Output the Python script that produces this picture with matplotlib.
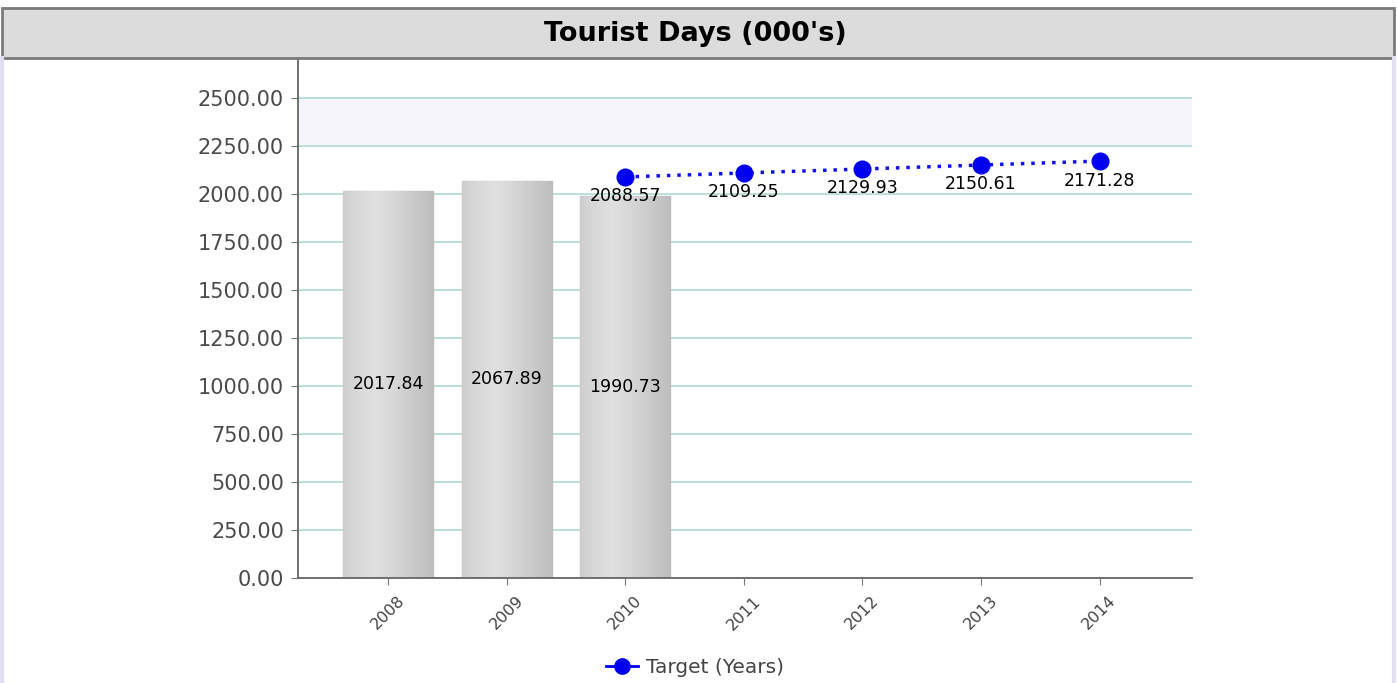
import numpy as np
import matplotlib
matplotlib.use('Agg')
import matplotlib.pyplot as plt
from matplotlib.patches import Rectangle
from matplotlib.lines import Line2D

# data
years = ['2008', '2009', '2010', '2011', '2012', '2013', '2014']
actual = [2017.84, 2067.89, 1990.73]
target_years = ['2010', '2011', '2012', '2013', '2014']
target = [2088.57, 2109.25, 2129.93, 2150.61, 2171.28]
yticks = np.arange(0, 2501, 250)

plt.rcParams['font.family'] = ['DejaVu Sans']

fig = plt.figure(figsize=(13.97, 6.83), dpi=100)
fig.patch.set_facecolor('white')

# title bar and side borders
fig.patches.append(Rectangle((2/1397, 1 - 58/683), 1392/1397, 50/683,
                             transform=fig.transFigure, facecolor='#dcdcdc',
                             edgecolor='#7a7a7a', linewidth=2, zorder=0))
fig.add_artist(Line2D([2/1397, 2/1397], [0, 1 - 58/683], color='#e0e0f2',
                      linewidth=3, transform=fig.transFigure))
fig.add_artist(Line2D([1394/1397, 1394/1397], [0, 1 - 58/683], color='#e0e0f2',
                      linewidth=3, transform=fig.transFigure))
fig.text(0.4975, 1 - 34/683, "Tourist Days (000's)", ha='center', va='center',
         fontsize=19.5, fontweight='bold', color='black')

ax = fig.add_axes([298/1397, 1 - 578/683, 894/1397, 520/683])
ax.set_facecolor('white')

x = np.arange(len(years))
xt = [years.index(y) for y in target_years]

# bands and grid
ax.axhspan(2250, 2500, color='#f5f5fb', zorder=0)
for v in yticks:
    ax.axhline(v, color='#b5dcd6', linewidth=1.3, zorder=1)

bars = ax.bar(x[:len(actual)], actual, width=0.76, color='#d6d6d8',
              edgecolor='#c2c2c4', linewidth=1, zorder=2)
# light gradient across each bar
grad = np.linspace(0, 1, 64).reshape(1, -1)
grad = 1 - 0.35 * np.abs(grad - 0.35)
for b in bars:
    im = ax.imshow(grad, cmap='Greys_r', vmin=0, vmax=1.25, aspect='auto',
                   extent=[b.get_x(), b.get_x() + b.get_width(), 0, b.get_height()],
                   zorder=2.5, alpha=0.9)
    im.set_clip_path(b)
for b, v in zip(bars, actual):
    ax.text(b.get_x() + b.get_width() / 2, v / 2, '%.2f' % v, ha='center',
            va='center', fontsize=12.5, color='black', zorder=4)

ax.plot(xt, target, color='#1010ee', linestyle=(0, (1, 2)), linewidth=2.5,
        marker='o', markersize=12, markerfacecolor='#0000f0',
        markeredgecolor='#0000f0', zorder=5)
for xi, v in zip(xt, target):
    ax.annotate('%.2f' % v, (xi, v), xytext=(0, -14), textcoords='offset points',
                ha='center', va='center', fontsize=12.5, color='black', zorder=6)

ax.set_xlim(-0.76, 6.78)
ax.set_ylim(0, 2708)
ax.set_yticks(yticks)
ax.set_yticklabels(['%.2f' % v for v in yticks], fontsize=15, color='#4a4a4a')
ax.set_xticks(x)
ax.set_xticklabels(years, rotation=45, fontsize=11.5, color='#444444')
ax.tick_params(axis='both', direction='out', length=5, color='#777777')
ax.tick_params(axis='x', pad=6)
ax.tick_params(axis='y', pad=5)
for s in ['top', 'right']:
    ax.spines[s].set_visible(False)
for s in ['left', 'bottom']:
    ax.spines[s].set_color('#666666')
    ax.spines[s].set_linewidth(1.3)

handle = Line2D([], [], color='#0000f0', linewidth=2, marker='o', markersize=11)
leg = fig.legend([handle], ['Target (Years)'], loc='center',
                 bbox_to_anchor=(0.4975, 0.022), frameon=False,
                 fontsize=14.5, handlelength=1.6, handletextpad=0.4)
for t in leg.get_texts():
    t.set_color('#444444')

fig.savefig('out.png', dpi=100)
